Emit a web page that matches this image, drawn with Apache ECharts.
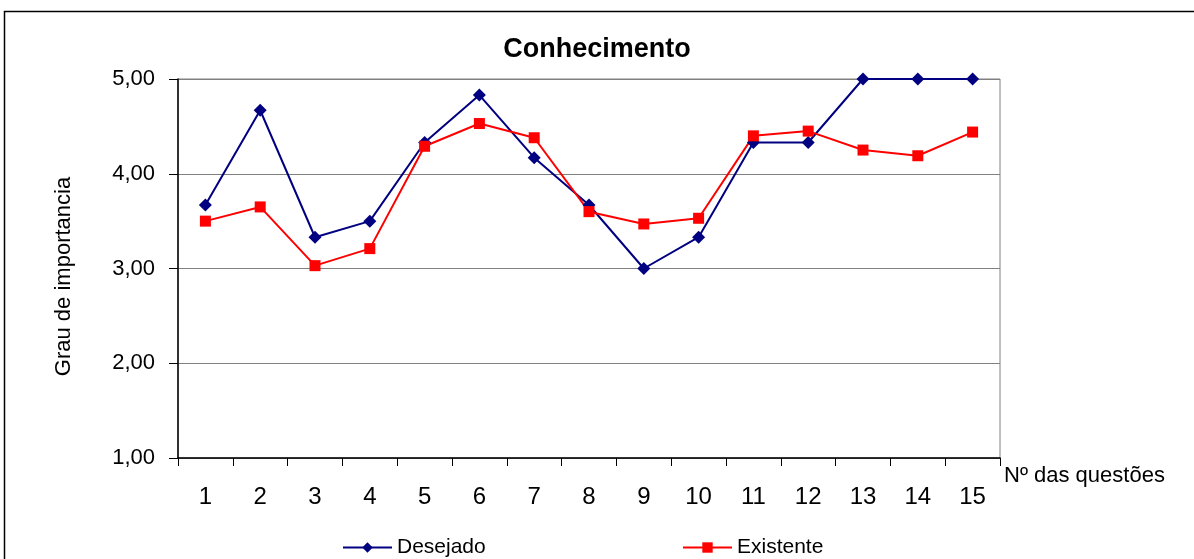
<!DOCTYPE html>
<html>
<head>
<meta charset="utf-8">
<script src="https://cdn.jsdelivr.net/npm/echarts@6/dist/echarts.min.js"></script>
<style>
html,body{margin:0;padding:0;background:#fff;}
#chart{width:1194px;height:559px;}
</style>
</head>
<body>
<div id="chart"></div>
<script>
const categories = ['1','2','3','4','5','6','7','8','9','10','11','12','13','14','15'];
const desejado = [3.67, 4.67, 3.33, 3.50, 4.33, 4.83, 4.17, 3.67, 3.00, 3.33, 4.33, 4.33, 5.00, 5.00, 5.00];
const existente = [3.50, 3.65, 3.03, 3.21, 4.29, 4.53, 4.38, 3.60, 3.47, 3.53, 4.40, 4.45, 4.25, 4.19, 4.44];
const titleText = 'Conhecimento';
const yAxisName = 'Grau de importancia';
const xAxisName = 'Nº das questões';

const chart = echarts.init(document.getElementById('chart'), null, {renderer: 'canvas'});
const font = 'Liberation Sans, Arial, sans-serif';
const legendText = {fontFamily: font, fontSize: 21, color: '#000'};
chart.setOption({
  animation: false,
  backgroundColor: '#fff',
  title: {
    text: titleText,
    left: 'center',
    top: 31,
    textStyle: {fontFamily: font, fontSize: 27, fontWeight: 'bold', color: '#000'}
  },
  graphic: [{
    type: 'polyline',
    shape: {points: [[4.5, 600], [4.5, 11.5], [1200, 11.5]]},
    style: {stroke: '#000', lineWidth: 1.5, fill: null}
  }],
  legend: [
    {
      top: 532,
      left: 337,
      itemWidth: 49,
      itemHeight: 13,
      itemGap: 4,
      textStyle: legendText,
      data: ['Desejado']
    },
    {
      top: 532,
      left: 677,
      itemWidth: 49,
      itemHeight: 13,
      itemGap: 4,
      textStyle: legendText,
      data: ['Existente']
    }
  ],
  grid: {
    left: 178,
    right: 194,
    top: 79,
    bottom: 101,
    show: true,
    borderColor: '#808080',
    borderWidth: 1
  },
  xAxis: {
    type: 'category',
    data: categories,
    boundaryGap: true,
    name: xAxisName,
    nameLocation: 'end',
    nameGap: 4,
    nameTextStyle: {fontFamily: font, fontSize: 22, color: '#000', verticalAlign: 'top', align: 'left', padding: [7, 0, 0, 0]},
    axisLine: {lineStyle: {color: '#000', width: 1.5}},
    axisTick: {show: true, length: 8, alignWithLabel: false, lineStyle: {color: '#000'}},
    axisLabel: {fontFamily: font, fontSize: 24, color: '#000', margin: 27}
  },
  yAxis: {
    type: 'value',
    min: 1,
    max: 5,
    interval: 1,
    name: yAxisName,
    nameLocation: 'middle',
    nameGap: 103,
    nameRotate: 90,
    nameTextStyle: {fontFamily: font, fontSize: 22, color: '#000', padding: [0, 16, 0, 0]},
    axisLine: {show: true, lineStyle: {color: '#000', width: 1.5}},
    axisTick: {show: true, length: 9, lineStyle: {color: '#000'}},
    axisLabel: {fontFamily: font, fontSize: 22, color: '#000', margin: 23,
      formatter: v => v.toFixed(2).replace('.', ',')},
    splitLine: {show: true, lineStyle: {color: '#808080', width: 1}}
  },
  series: [
    {
      name: 'Desejado',
      type: 'line',
      data: desejado,
      symbol: 'diamond',
      symbolSize: 13,
      itemStyle: {color: '#000080'},
      lineStyle: {color: '#000080', width: 2}
    },
    {
      name: 'Existente',
      type: 'line',
      data: existente,
      symbol: 'rect',
      symbolSize: 11,
      itemStyle: {color: '#FF0000'},
      lineStyle: {color: '#FF0000', width: 2}
    }
  ]
});
</script>
</body>
</html>
